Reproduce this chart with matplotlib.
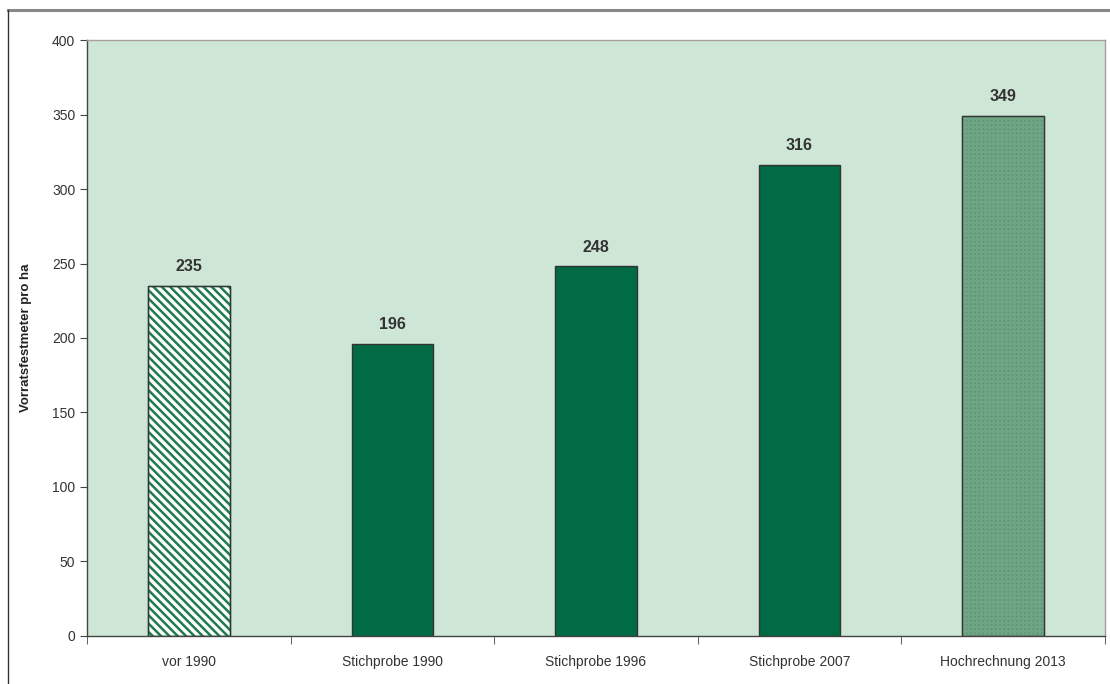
import matplotlib.pyplot as plt
from matplotlib.lines import Line2D

categories = ['vor 1990', 'Stichprobe 1990', 'Stichprobe 1996', 'Stichprobe 2007', 'Hochrechnung 2013']
values = [235, 196, 248, 316, 349]

plt.rcParams['font.family'] = ['Liberation Sans', 'DejaVu Sans']
plt.rcParams['hatch.linewidth'] = 1.8

fig = plt.figure(figsize=(11.1, 6.84), dpi=100)
ax = fig.add_axes([0.0784, 0.0702, 0.917, 0.8713])
ax.set_facecolor('#cde6d5')

green = '#006b45'
x = range(len(categories))
bars = ax.bar(x, values, width=0.4, color=green, edgecolor='#333333', linewidth=1.0, zorder=2)

# first bar: striped, last bar: stippled
bars[0].set_facecolor('white')
bars[0].set_hatch('\\\\\\\\')
bars[0].set_edgecolor('#1f7a50')
ax.bar(0, values[0], width=0.4, fill=False, edgecolor='#333333', linewidth=1.0, zorder=3)

bars[4].set_facecolor('#5a9272')
bars[4].set_hatch('++++')
bars[4].set_edgecolor('#6fa585')
ax.bar(4, values[4], width=0.4, fill=False, edgecolor='#333333', linewidth=1.0, zorder=3)

for i, v in enumerate(values):
    ax.text(i, v + 8, str(v), ha='center', va='bottom', fontsize=11.5,
            fontweight='bold', color='#333333')

ax.set_xlim(-0.5, 4.5)
ax.set_ylim(0, 400)
ax.set_yticks(range(0, 401, 50))
ax.set_xticks(x)
ax.set_xticklabels(categories, fontsize=10, color='#333333')
ax.tick_params(axis='x', length=0, pad=14)
ax.set_xticks([i + 0.5 for i in range(-1, 5)], minor=True)
ax.tick_params(axis='x', which='minor', length=6, direction='out', color='#444444')
ax.tick_params(axis='y', labelsize=10, labelcolor='#333333', length=5, color='#444444')
ax.set_ylabel('Vorratsfestmeter pro ha', fontsize=9.5, fontweight='bold', color='#222222', labelpad=14)

for s in ['left', 'bottom']:
    ax.spines[s].set_color('#444444')
    ax.spines[s].set_linewidth(1.0)
for s in ['top', 'right']:
    ax.spines[s].set_color('#a89f9c')
    ax.spines[s].set_linewidth(1.0)

# page frame
fig.add_artist(Line2D([8 / 1110, 1], [1 - 10 / 684] * 2, color='#888888', lw=2.2))
fig.add_artist(Line2D([8 / 1110] * 2, [0, 1 - 10 / 684], color='#333333', lw=1.0))

fig.savefig('out.png', dpi=100)
